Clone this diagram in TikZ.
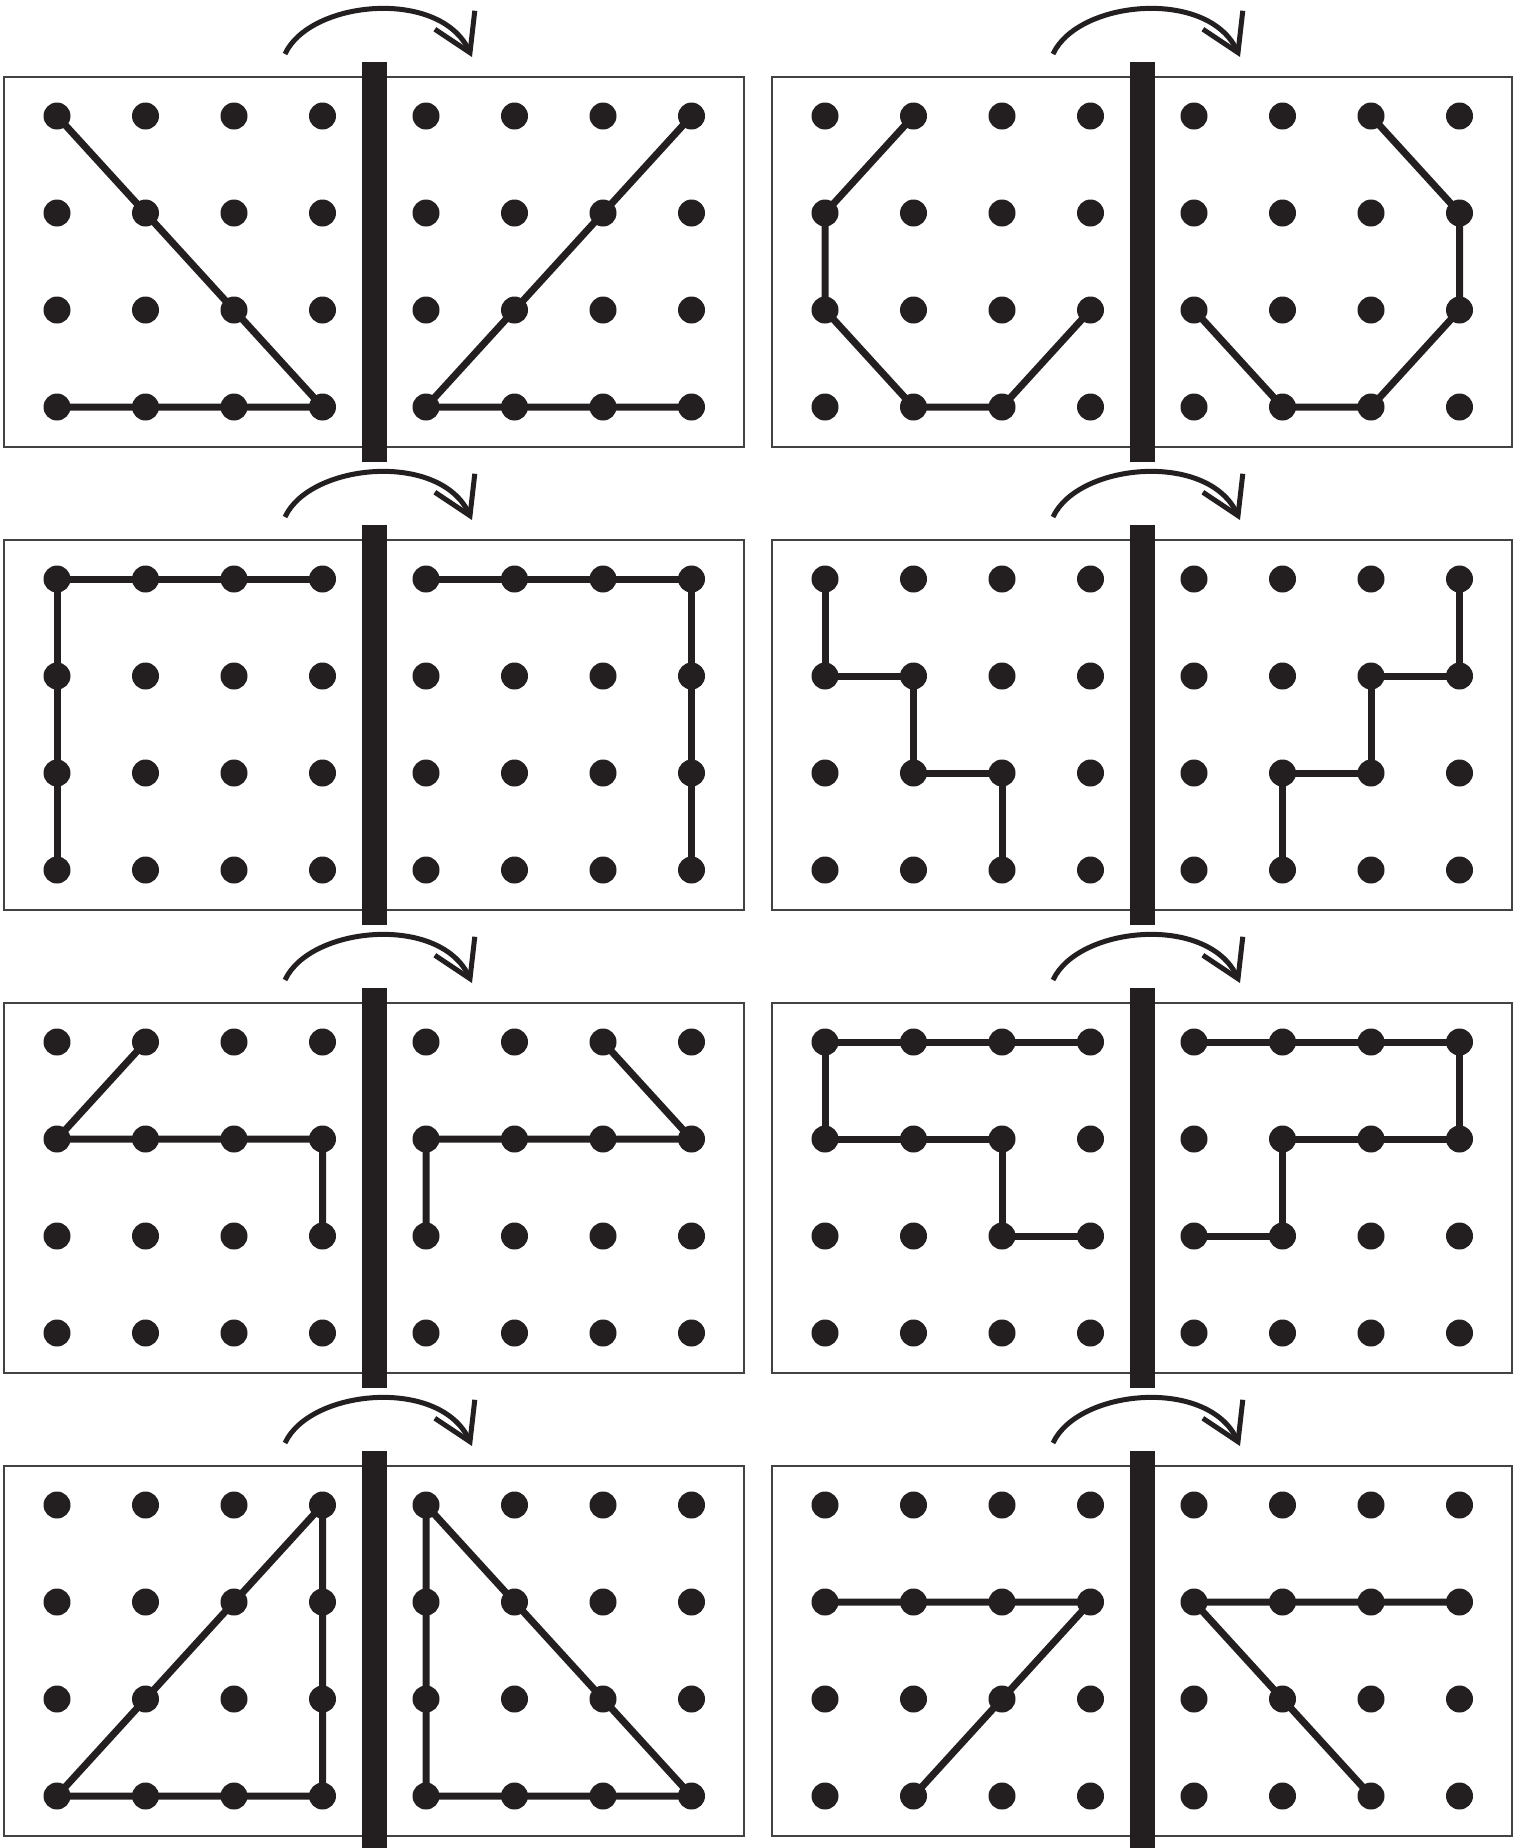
\documentclass[tikz,border=0pt]{standalone}
\usepackage{tikz}
\usetikzlibrary{arrows.meta}

\definecolor{ink}{RGB}{35,31,32}
\tikzset{
    kugi/.style={circle, fill=ink, inner sep=0pt, minimum size=27pt},
    gomu/.style={line width=7pt, draw=ink, line join=round},
    waku/.style={draw=ink!85, line width=1.5pt},
    yajirushi/.style={line width=5pt, draw=ink, -{Straight Barb[length=36pt, width=44pt]}}
}

\begin{document}
\begin{tikzpicture}[x=1pt, y=-1pt]
    \useasboundingbox (0,0) rectangle (1521,1848);
    % 1. Khung, truc va mui ten
    \foreach \p/\ox/\oy in {a/4/77, b/772/77, c/4/540, d/772/540,
                            e/4/1003, f/772/1003, g/4/1466, h/772/1466} {
        \begin{scope}[shift={(\ox,\oy)}]
            \draw[waku] (0,0) rectangle (740,370);
            \fill[ink] (358,-15) rectangle (383,385);
            \draw[yajirushi] (281,-23) .. controls (306,-77) and (436,-89) .. (468,-20);
            \foreach \c in {0,...,3} \foreach \r in {0,...,3} {
                \node[kugi] (\p-l-\c\r) at ({53+88.5*\c},{39+97*\r}) {};
                \node[kugi] (\p-r-\c\r) at ({422+88.5*\c},{39+97*\r}) {};
            }
        \end{scope}
    }

    % 2. Hang 1
    \draw[gomu] (a-l-00.center) -- (a-l-11.center) -- (a-l-22.center) -- (a-l-33.center)
        -- (a-l-23.center) -- (a-l-13.center) -- (a-l-03.center);
    \draw[gomu] (a-r-30.center) -- (a-r-21.center) -- (a-r-12.center) -- (a-r-03.center)
        -- (a-r-13.center) -- (a-r-23.center) -- (a-r-33.center);
    \draw[gomu] (b-l-10.center) -- (b-l-01.center) -- (b-l-02.center) -- (b-l-13.center)
        -- (b-l-23.center) -- (b-l-32.center);
    \draw[gomu] (b-r-20.center) -- (b-r-31.center) -- (b-r-32.center) -- (b-r-23.center)
        -- (b-r-13.center) -- (b-r-02.center);

    % 3. Hang 2
    \draw[gomu] (c-l-30.center) -- (c-l-20.center) -- (c-l-10.center) -- (c-l-00.center)
        -- (c-l-01.center) -- (c-l-02.center) -- (c-l-03.center);
    \draw[gomu] (c-r-00.center) -- (c-r-10.center) -- (c-r-20.center) -- (c-r-30.center)
        -- (c-r-31.center) -- (c-r-32.center) -- (c-r-33.center);
    \draw[gomu] (d-l-00.center) -- (d-l-01.center) -- (d-l-11.center) -- (d-l-12.center)
        -- (d-l-22.center) -- (d-l-23.center);
    \draw[gomu] (d-r-30.center) -- (d-r-31.center) -- (d-r-21.center) -- (d-r-22.center)
        -- (d-r-12.center) -- (d-r-13.center);

    % 4. Hang 3
    \draw[gomu] (e-l-10.center) -- (e-l-01.center) -- (e-l-11.center) -- (e-l-21.center)
        -- (e-l-31.center) -- (e-l-32.center);
    \draw[gomu] (e-r-20.center) -- (e-r-31.center) -- (e-r-21.center) -- (e-r-11.center)
        -- (e-r-01.center) -- (e-r-02.center);
    \draw[gomu] (f-l-30.center) -- (f-l-20.center) -- (f-l-10.center) -- (f-l-00.center)
        -- (f-l-01.center) -- (f-l-11.center) -- (f-l-21.center) -- (f-l-22.center)
        -- (f-l-32.center);
    \draw[gomu] (f-r-00.center) -- (f-r-10.center) -- (f-r-20.center) -- (f-r-30.center)
        -- (f-r-31.center) -- (f-r-21.center) -- (f-r-11.center) -- (f-r-12.center)
        -- (f-r-02.center);

    % 5. Hang 4
    \draw[gomu] (g-l-30.center) -- (g-l-21.center) -- (g-l-12.center) -- (g-l-03.center)
        -- (g-l-13.center) -- (g-l-23.center) -- (g-l-33.center) -- (g-l-32.center)
        -- (g-l-31.center) -- cycle;
    \draw[gomu] (g-r-00.center) -- (g-r-11.center) -- (g-r-22.center) -- (g-r-33.center)
        -- (g-r-23.center) -- (g-r-13.center) -- (g-r-03.center) -- (g-r-02.center)
        -- (g-r-01.center) -- cycle;
    \draw[gomu] (h-l-01.center) -- (h-l-11.center) -- (h-l-21.center) -- (h-l-31.center)
        -- (h-l-22.center) -- (h-l-13.center);
    \draw[gomu] (h-r-31.center) -- (h-r-21.center) -- (h-r-11.center) -- (h-r-01.center)
        -- (h-r-12.center) -- (h-r-23.center);
\end{tikzpicture}
\end{document}
